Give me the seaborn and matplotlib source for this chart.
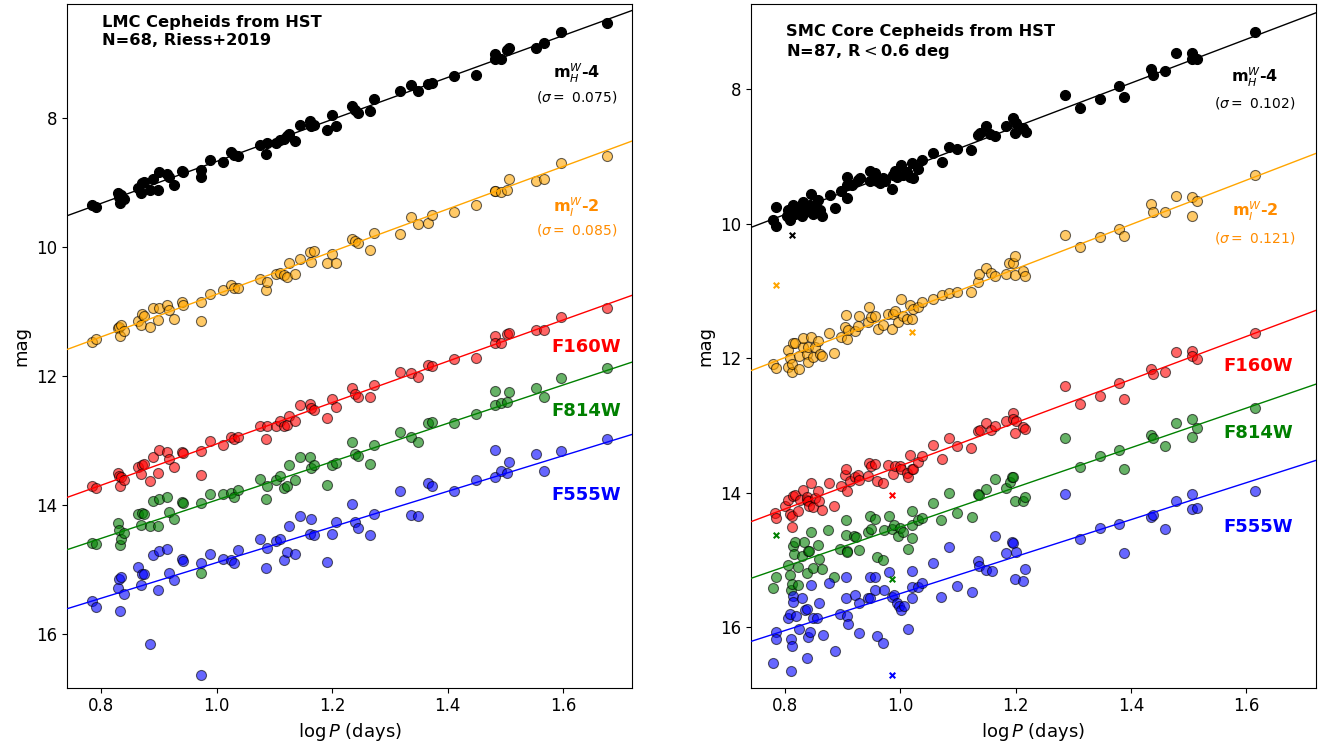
import numpy as np
import matplotlib
matplotlib.use("Agg")
import matplotlib.pyplot as plt
import seaborn as sns

# ---------------- LMC (left panel), one logP per star ----------------
lmc_logp = [0.784, 0.791, 0.829, 0.831, 0.832, 0.834, 0.839, 0.864, 0.868, 0.871,
            0.874, 0.885, 0.890, 0.898, 0.900, 0.914, 0.917, 0.926, 0.940, 0.941,
            0.973, 0.973, 0.989, 1.011, 1.024, 1.030, 1.037, 1.075, 1.086, 1.087,
            1.102, 1.110, 1.116, 1.122, 1.125, 1.136, 1.145, 1.161, 1.164, 1.168,
            1.191, 1.200, 1.206, 1.235, 1.240, 1.245, 1.266, 1.272, 1.317, 1.336,
            1.349, 1.366, 1.373, 1.412, 1.449, 1.483, 1.483, 1.493, 1.503, 1.506,
            1.554, 1.567, 1.596, 1.677]
lmc_wh = [9.36, 9.39, 9.17, 9.24, 9.32, 9.20, 9.26, 9.10, 9.17, 9.02,
          9.00, 9.13, 8.95, 9.13, 8.85, 8.88, 8.92, 9.05, 8.83, 8.84,
          8.81, 8.92, 8.66, 8.69, 8.53, 8.58, 8.60, 8.43, 8.57, 8.40,
          8.39, 8.35, 8.33, 8.29, 8.25, 8.36, 8.11, 8.05, 8.13, 8.12,
          8.20, 7.96, 8.13, 7.82, 7.89, 7.93, 7.90, 7.72, 7.59, 7.50,
          7.59, 7.48, 7.46, 7.35, 7.34, 7.02, 7.09, 7.09, 6.96, 6.93,
          6.92, 6.85, 6.68, 6.54]
lmc_wi = [11.48, 11.44, 11.27, 11.25, 11.38, 11.22, 11.31, 11.15, 11.22, 11.04,
          11.07, 11.25, 10.96, 11.14, 10.95, 10.91, 10.99, 11.12, 10.86, 10.91,
          10.86, 11.15, 10.73, 10.68, 10.60, 10.65, 10.65, 10.50, 10.67, 10.55,
          10.43, 10.41, 10.44, 10.47, 10.25, 10.43, 10.19, 10.08, 10.24, 10.07,
          10.26, 10.12, 10.26, 9.89, 9.91, 9.95, 10.05, 9.79, 9.80, 9.54,
          9.65, 9.63, 9.51, 9.47, 9.35, 9.14, 9.14, 9.15, 9.12, 8.96,
          8.99, 8.96, 8.70, 8.60]
lmc_f160 = [13.72, 13.75, 13.51, 13.56, 13.72, 13.58, 13.62, 13.42, 13.52, 13.38,
            13.37, 13.63, 13.26, 13.51, 13.16, 13.18, 13.29, 13.42, 13.18, 13.20,
            13.17, 13.54, 13.01, 13.07, 12.95, 12.98, 12.96, 12.78, 12.98, 12.79,
            12.79, 12.71, 12.79, 12.77, 12.63, 12.71, 12.46, 12.44, 12.51, 12.54,
            12.66, 12.37, 12.49, 12.19, 12.29, 12.33, 12.33, 12.14, 11.94, 11.96,
            12.03, 11.84, 11.85, 11.75, 11.73, 11.38, 11.49, 11.49, 11.35, 11.34,
            11.30, 11.30, 11.10, 10.95]
lmc_f814 = [14.59, 14.62, 14.29, 14.39, 14.63, 14.54, 14.44, 14.14, 14.32, 14.13,
            14.14, 14.33, 13.94, 14.33, 13.91, 13.88, 14.12, 14.23, 13.96, 13.97,
            13.97, 15.06, 13.84, 13.84, 13.82, 13.88, 13.77, 13.60, 13.91, 13.71,
            13.62, 13.56, 13.75, 13.71, 13.39, 13.62, 13.27, 13.26, 13.44, 13.39,
            13.70, 13.39, 13.36, 13.03, 13.21, 13.25, 13.37, 13.07, 12.88, 12.96,
            13.03, 12.74, 12.72, 12.73, 12.59, 12.24, 12.46, 12.42, 12.41, 12.25,
            12.20, 12.33, 12.04, 11.89]
lmc_f555 = [15.49, 15.59, 15.30, 15.15, 15.65, 15.13, 15.39, 14.97, 15.25, 15.07,
            15.08, 16.17, 14.79, 15.33, 14.72, 14.69, 15.06, 15.17, 14.85, 14.87,
            14.91, 16.65, 14.77, 14.84, 14.86, 14.91, 14.71, 14.53, 14.98, 14.68,
            14.56, 14.54, 14.86, 14.74, 14.33, 14.76, 14.18, 14.46, 14.23, 14.48,
            14.89, 14.45, 14.27, 13.99, 14.27, 14.37, 14.47, 14.14, 13.79, 14.16,
            14.18, 13.66, 13.71, 13.79, 13.62, 13.16, 13.57, 13.48, 13.51, 13.34,
            13.22, 13.48, 13.17, 12.98]

# fitted P-L relations: slope, and mag at logP = 1
lmc_slope = [-3.25, -3.30, -3.20, -2.97, -2.76]
lmc_zp = [8.68, 10.74, 13.06, 13.93, 14.90]
lmc_sigma = ["0.075", "0.085"]

# ---------------- SMC (right panel) ----------------
smc_long_logp = [1.285, 1.311, 1.346, 1.379, 1.388, 1.435, 1.438, 1.459, 1.478,
                 1.505, 1.505, 1.515, 1.615]

smc_wh_logp = [0.780, 0.784, 0.784, 0.803, 0.806, 0.809, 0.814, 0.817, 0.820, 0.826,
               0.829, 0.832, 0.835, 0.838, 0.843, 0.846, 0.846, 0.849, 0.852, 0.858,
               0.861, 0.864, 0.878, 0.887, 0.898, 0.907, 0.907, 0.908, 0.916, 0.927,
               0.930, 0.947, 0.947, 0.956, 0.959, 0.965, 0.970, 0.973, 0.985, 0.988,
               0.991, 0.994, 1.002, 1.005, 1.011, 1.017, 1.020, 1.022, 1.031, 1.037,
               1.057, 1.072, 1.085, 1.099, 1.123, 1.135, 1.138, 1.148, 1.155, 1.164,
               1.184, 1.195, 1.199, 1.200, 1.213, 1.218] + smc_long_logp
smc_wh = [9.94, 9.75, 10.03, 9.89, 9.80, 9.94, 9.72, 9.85, 9.80, 9.77,
          9.89, 9.67, 9.82, 9.77, 9.72, 9.56, 9.80, 9.85, 9.75, 9.65,
          9.80, 9.88, 9.57, 9.76, 9.51, 9.30, 9.61, 9.42, 9.42, 9.35,
          9.32, 9.21, 9.37, 9.24, 9.36, 9.40, 9.32, 9.37, 9.48, 9.28,
          9.21, 9.30, 9.13, 9.28, 9.23, 9.30, 9.10, 9.32, 9.18, 9.05,
          8.95, 9.08, 8.86, 8.89, 8.90, 8.68, 8.65, 8.55, 8.66, 8.70,
          8.55, 8.42, 8.65, 8.50, 8.57, 8.63,
          8.08, 8.27, 8.14, 7.95, 8.12, 7.70, 7.79, 7.72, 7.46, 7.46, 7.55, 7.55, 7.15]

smc_wi_logp = [0.779, 0.784, 0.806, 0.806, 0.809, 0.812, 0.812, 0.814, 0.817, 0.825,
               0.825, 0.832, 0.832, 0.838, 0.840, 0.840, 0.846, 0.849, 0.852, 0.858,
               0.861, 0.865, 0.877, 0.886, 0.898, 0.904, 0.906, 0.908, 0.910, 0.921,
               0.927, 0.929, 0.944, 0.946, 0.950, 0.956, 0.962, 0.970, 0.979, 0.985,
               0.988, 0.991, 0.996, 1.002, 1.005, 1.011, 1.017, 1.020, 1.022, 1.031,
               1.037, 1.057, 1.072, 1.085, 1.099, 1.123, 1.135, 1.137, 1.148, 1.158,
               1.164, 1.184, 1.189, 1.195, 1.199, 1.199, 1.213, 1.216] + smc_long_logp
smc_wi = [12.08, 12.14, 11.88, 12.13, 12.00, 12.20, 12.08, 11.78, 11.78, 12.16,
          11.97, 11.83, 11.70, 11.94, 12.05, 11.83, 11.68, 11.98, 11.83, 11.74,
          11.94, 11.97, 11.63, 11.92, 11.68, 11.53, 11.36, 11.72, 11.58, 11.60,
          11.52, 11.37, 11.46, 11.24, 11.38, 11.37, 11.56, 11.51, 11.34, 11.57,
          11.34, 11.29, 11.46, 11.12, 11.37, 11.41, 11.21, 11.41, 11.27, 11.24,
          11.17, 11.12, 11.06, 11.03, 11.02, 11.02, 10.86, 10.75, 10.65, 10.73,
          10.78, 10.75, 10.58, 10.58, 10.48, 10.76, 10.70, 10.78,
          10.17, 10.35, 10.19, 10.07, 10.18, 9.71, 9.82, 9.82, 9.58, 9.60, 9.88, 9.66, 9.27]

smc_f160_logp = [0.783, 0.784, 0.800, 0.806, 0.809, 0.812, 0.812, 0.814, 0.817, 0.823,
                 0.826, 0.832, 0.838, 0.838, 0.840, 0.842, 0.846, 0.849, 0.852, 0.858,
                 0.860, 0.865, 0.877, 0.886, 0.898, 0.904, 0.906, 0.908, 0.913, 0.921,
                 0.927, 0.929, 0.944, 0.946, 0.950, 0.956, 0.959, 0.970, 0.979, 0.988,
                 0.991, 0.999, 1.002, 1.011, 1.014, 1.017, 1.020, 1.022, 1.031, 1.037,
                 1.057, 1.072, 1.085, 1.099, 1.123, 1.135, 1.138, 1.148, 1.158, 1.164,
                 1.184, 1.195, 1.196, 1.199, 1.200, 1.213, 1.216] + smc_long_logp
smc_f160 = [14.30, 14.38, 14.20, 14.11, 14.31, 14.35, 14.51, 14.05, 14.03, 14.27,
            14.11, 13.96, 14.11, 14.06, 14.13, 14.20, 13.86, 14.21, 14.08, 13.97,
            14.13, 14.25, 13.86, 14.20, 13.90, 13.74, 13.64, 13.97, 13.83, 13.76,
            13.74, 13.81, 13.75, 13.56, 13.60, 13.57, 13.83, 13.85, 13.59, 13.72,
            13.60, 13.60, 13.64, 13.70, 13.77, 13.44, 13.64, 13.65, 13.54, 13.45,
            13.29, 13.50, 13.19, 13.31, 13.34, 13.08, 13.06, 12.97, 13.06, 13.01,
            12.94, 12.82, 12.91, 13.11, 12.94, 13.02, 13.05,
            12.41, 12.68, 12.56, 12.37, 12.60, 12.16, 12.23, 12.20, 11.91, 11.89, 11.97, 12.01, 11.63]

smc_f814_logp = [0.779, 0.784, 0.806, 0.810, 0.809, 0.812, 0.814, 0.817, 0.816, 0.823,
                 0.823, 0.829, 0.833, 0.838, 0.840, 0.842, 0.846, 0.848, 0.858, 0.860,
                 0.865, 0.875, 0.886, 0.895, 0.906, 0.906, 0.907, 0.908, 0.920, 0.924,
                 0.928, 0.944, 0.947, 0.950, 0.956, 0.960, 0.970, 0.972, 0.981, 0.985,
                 0.989, 0.996, 0.999, 1.005, 1.014, 1.020, 1.020, 1.021, 1.031, 1.037,
                 1.057, 1.070, 1.085, 1.099, 1.125, 1.135, 1.137, 1.148, 1.164, 1.184,
                 1.190, 1.193, 1.196, 1.199, 1.213, 1.216] + smc_long_logp
smc_f814 = [15.41, 15.26, 15.07, 15.44, 15.22, 15.36, 14.79, 14.74, 14.91, 15.10,
            15.37, 14.94, 14.73, 15.19, 14.86, 14.87, 14.59, 15.12, 14.78, 14.98,
            15.14, 14.56, 15.25, 14.84, 14.41, 14.63, 14.86, 14.88, 14.64, 14.66,
            14.85, 14.59, 14.35, 14.54, 14.39, 14.95, 15.00, 14.56, 14.35, 14.54,
            14.48, 14.65, 14.53, 14.59, 14.83, 14.68, 14.27, 14.48, 14.41, 14.37,
            14.16, 14.41, 14.00, 14.30, 14.36, 14.02, 14.03, 13.95, 13.80, 13.93,
            13.84, 13.76, 13.77, 14.13, 14.13, 14.06,
            13.18, 13.62, 13.45, 13.37, 13.65, 13.14, 13.19, 13.30, 12.96, 12.91, 13.17, 13.04, 12.74]

smc_f555_logp = [0.779, 0.784, 0.784, 0.806, 0.809, 0.810, 0.812, 0.810, 0.814, 0.814,
                 0.820, 0.825, 0.829, 0.835, 0.838, 0.840, 0.838, 0.843, 0.846, 0.848,
                 0.855, 0.860, 0.866, 0.877, 0.887, 0.895, 0.906, 0.906, 0.908, 0.910,
                 0.921, 0.929, 0.929, 0.944, 0.947, 0.948, 0.956, 0.956, 0.960, 0.970,
                 0.972, 0.981, 0.985, 0.989, 0.994, 0.998, 1.002, 1.007, 1.014, 1.020,
                 1.020, 1.021, 1.031, 1.037, 1.057, 1.070, 1.085, 1.099, 1.125, 1.135,
                 1.137, 1.148, 1.159, 1.164, 1.184, 1.193, 1.195, 1.199, 1.200, 1.213,
                 1.216] + smc_long_logp
smc_f555 = [16.53, 16.07, 16.18, 15.87, 15.80, 16.18, 16.28, 16.65, 15.54, 15.63,
            15.84, 16.03, 15.57, 15.74, 15.73, 16.14, 16.46, 16.07, 15.37, 15.87,
            15.87, 15.64, 16.12, 15.34, 16.36, 15.80, 15.26, 15.56, 15.83, 15.95,
            15.52, 15.64, 16.09, 15.56, 15.26, 15.56, 15.25, 15.45, 16.13, 16.24,
            15.44, 15.18, 15.55, 15.52, 15.64, 15.69, 15.75, 15.68, 16.03, 15.16,
            15.40, 15.56, 15.40, 15.35, 15.04, 15.55, 14.81, 15.39, 15.47, 15.01,
            15.09, 15.15, 15.16, 14.65, 14.90, 14.73, 14.75, 15.29, 14.88, 15.32,
            15.14,
            14.02, 14.69, 14.52, 14.47, 14.89, 14.36, 14.33, 14.54, 14.12, 14.02, 14.24, 14.22, 13.97]

# clipped stars (drawn as x)
smc_clip_band = [0, 1, 1, 2, 3, 3, 4]
smc_clip_logp = [0.812, 0.784, 1.021, 0.985, 0.784, 0.985, 0.985]
smc_clip_mag = [10.16, 10.91, 11.61, 14.03, 14.63, 15.28, 16.71]

smc_slope = [-3.26, -3.30, -3.21, -2.95, -2.75]
smc_zp = [9.21, 11.33, 13.60, 14.51, 15.50]
smc_sigma = ["0.102", "0.121"]

band_colors = ["black", "orange", "red", "green", "blue"]
label_colors = ["black", "darkorange", "red", "green", "blue"]
band_labels = [r"m$_H^W$-4", r"m$_I^W$-2", "F160W", "F814W", "F555W"]

sns.set_style("ticks")
plt.rcParams["font.family"] = ["DejaVu Sans"]
plt.rcParams.update({"text.color": "black", "axes.labelcolor": "black",
                     "xtick.color": "black", "ytick.color": "black",
                     "axes.edgecolor": "black"})

fig, (ax1, ax2) = plt.subplots(1, 2, figsize=(13.25, 7.51), dpi=100)
fig.subplots_adjust(left=0.0508, right=0.993, bottom=0.0843, top=0.9947, wspace=0.21)


def draw_panel(ax, xs, ys, slopes, zps, ylim, title, sigmas, lab_pos, title_y):
    xline = np.array([0.70, 1.76])
    for i in range(5):
        if i == 0:
            sns.scatterplot(x=xs[i], y=ys[i], color="black", edgecolor="black",
                            s=52, linewidth=0.8, ax=ax, zorder=3)
        else:
            sns.scatterplot(x=xs[i], y=ys[i], color=band_colors[i], edgecolor="black",
                            alpha=0.6, s=52, linewidth=0.8, ax=ax, zorder=3)
        ax.plot(xline, zps[i] + slopes[i] * (xline - 1.0), color=band_colors[i],
                lw=1.0, zorder=4)
    ax.set_xlim(0.741, 1.72)
    ax.set_ylim(*ylim)
    ax.set_xlabel(r"$\log P$ (days)", fontsize=13)
    ax.set_ylabel("mag", fontsize=13)
    ax.tick_params(labelsize=12)
    ax.set_yticks([8, 10, 12, 14, 16])
    ax.text(0.062, title_y, title, transform=ax.transAxes, fontsize=11.7,
            fontweight="bold", va="top", ha="left", linespacing=1.25)
    for i in range(5):
        xp, yp = lab_pos[i]
        ax.text(xp, yp, band_labels[i], transform=ax.transAxes, ha="center",
                va="center", color=label_colors[i], fontweight="bold",
                fontsize=11.5 if i < 2 else 13)
    for i in range(2):
        xp, yp = lab_pos[5 + i]
        ax.text(xp, yp, r"($\sigma=$ " + sigmas[i] + ")", transform=ax.transAxes,
                ha="center", va="center", color=label_colors[i], fontsize=10)


draw_panel(ax1, [lmc_logp] * 5, [lmc_wh, lmc_wi, lmc_f160, lmc_f814, lmc_f555],
           lmc_slope, lmc_zp, (16.84, 6.24),
           "LMC Cepheids from HST\nN=68, Riess+2019", lmc_sigma,
           [(0.902, 0.899), (0.902, 0.703), (0.918, 0.499), (0.918, 0.404),
            (0.918, 0.282), (0.902, 0.864), (0.902, 0.669)], 0.984)

draw_panel(ax2, [smc_wh_logp, smc_wi_logp, smc_f160_logp, smc_f814_logp, smc_f555_logp],
           [smc_wh, smc_wi, smc_f160, smc_f814, smc_f555],
           smc_slope, smc_zp, (16.9, 6.73),
           "SMC Core Cepheids from HST\nN=87, R$<$0.6 deg", smc_sigma,
           [(0.8925, 0.893), (0.8925, 0.696), (0.898, 0.470), (0.898, 0.373),
            (0.898, 0.235), (0.8925, 0.855), (0.8925, 0.658)], 0.971)

for b, xv, yv in zip(smc_clip_band, smc_clip_logp, smc_clip_mag):
    ax2.scatter([xv], [yv], marker="x", color=band_colors[b], s=16, linewidths=1.5, zorder=5)

fig.savefig("out.png", dpi=100)
